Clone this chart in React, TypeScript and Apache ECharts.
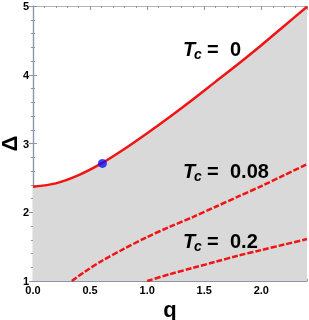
import React, { useEffect, useRef } from "react";
import * as echarts from "echarts";

const q0 = [0, 0.2, 0.4, 0.6, 0.8, 1.0, 1.2, 1.4, 1.6, 1.8, 2.0, 2.2, 2.4];
const tc0 = [2.37, 2.42, 2.54, 2.71, 2.92, 3.15, 3.39, 3.64, 3.90, 4.16, 4.43, 4.71, 4.99];
const q08 = [0.34, 0.45, 0.6, 0.8, 1.0, 1.2, 1.4, 1.6, 1.8, 2.0, 2.2, 2.4];
const tc08 = [1.0, 1.13, 1.29, 1.47, 1.64, 1.79, 1.93, 2.08, 2.23, 2.38, 2.54, 2.70];
const q2 = [1.0, 1.2, 1.4, 1.6, 1.8, 2.0, 2.2, 2.4];
const tc2 = [1.0, 1.10, 1.19, 1.28, 1.37, 1.45, 1.53, 1.61];
const point = [0.608, 2.71];
const labels = [
  { value: "0", y: 49 },
  { value: "0.08", y: 171 },
  { value: "0.2", y: 241 },
];

const RED = "#f01414";
const FRAME = "#8c96aa";
const FONT = '"Liberation Sans", Arial, sans-serif';

function zip(a: number[], b: number[]) {
  return a.map((v, i) => [v, b[i]]);
}

export default function App() {
  const ref = useRef<HTMLDivElement>(null);
  useEffect(() => {
    document.body.style.margin = "0";
    const chart = echarts.init(ref.current!, null, { renderer: "svg" });
    const major = { show: true, inside: true, length: 4, lineStyle: { color: FRAME } };
    const minor = { show: true, inside: true, length: 2, lineStyle: { color: FRAME } };
    const noLabel = { show: false };
    const noSplit = { show: false };
    const graphic: any[] = [];
    labels.forEach((l) => {
      graphic.push(
        { type: "text", z: 20, x: 183, y: l.y, style: { text: "T", font: `italic bold 20px ${FONT}`, fill: "#000", verticalAlign: "middle" } },
        { type: "text", z: 20, x: 194, y: l.y + 4.7, style: { text: "c", font: `italic bold 14px ${FONT}`, fill: "#000", verticalAlign: "middle" } },
        { type: "text", z: 20, x: 207, y: l.y, style: { text: "=", font: `bold 20px ${FONT}`, fill: "#000", verticalAlign: "middle" } },
        { type: "text", z: 20, x: 230, y: l.y, style: { text: l.value, font: `bold 20px ${FONT}`, fill: "#000", verticalAlign: "middle" } }
      );
    });
    chart.setOption({
      animation: false,
      grid: { left: 33, top: 6, right: 2, bottom: 39, containLabel: false, outerBoundsMode: "none" },
      xAxis: [
        {
          type: "value", min: 0, max: 2.4, interval: 0.5, position: "bottom",
          axisLine: { show: true, lineStyle: { color: FRAME, width: 1.2 } },
          axisTick: major,
          axisLabel: { show: true, showMaxLabel: false, formatter: (v: number) => v.toFixed(1), color: "#000", fontWeight: "bold", fontSize: 11, fontFamily: FONT, margin: 3 },
          splitLine: noSplit,
          name: "q", nameLocation: "middle", nameGap: 17, nameMoveOverlap: false,
          nameTextStyle: { color: "#000", fontWeight: "bold", fontSize: 22, fontFamily: FONT },
        },
        { type: "value", min: 0, max: 2.4, interval: 0.1, position: "bottom", axisLine: { show: false }, axisTick: minor, axisLabel: noLabel, splitLine: noSplit },
        { type: "value", min: 0, max: 2.4, interval: 0.5, position: "top", axisLine: { show: true, lineStyle: { color: "#b4b4b4" } }, axisTick: major, axisLabel: noLabel, splitLine: noSplit },
        { type: "value", min: 0, max: 2.4, interval: 0.1, position: "top", axisLine: { show: false }, axisTick: minor, axisLabel: noLabel, splitLine: noSplit },
      ],
      yAxis: [
        {
          type: "value", min: 1, max: 5, interval: 1, position: "left",
          axisLine: { show: true, lineStyle: { color: FRAME, width: 1.2 } },
          axisTick: major,
          axisLabel: { show: true, color: "#000", fontWeight: "bold", fontSize: 11, fontFamily: FONT, margin: 4 },
          splitLine: noSplit,
          name: "Δ", nameLocation: "middle", nameGap: 13, nameRotate: 90, nameMoveOverlap: false,
          nameTextStyle: { color: "#000", fontWeight: "bold", fontSize: 22, fontFamily: FONT },
        },
        { type: "value", min: 1, max: 5, interval: 0.2, position: "left", axisLine: { show: false }, axisTick: minor, axisLabel: noLabel, splitLine: noSplit },
        { type: "value", min: 1, max: 5, interval: 1, position: "right", axisLine: { show: true, lineStyle: { color: FRAME, width: 1.2 } }, axisTick: major, axisLabel: noLabel, splitLine: noSplit },
        { type: "value", min: 1, max: 5, interval: 0.2, position: "right", axisLine: { show: false }, axisTick: minor, axisLabel: noLabel, splitLine: noSplit },
      ],
      series: [
        {
          type: "line", data: zip(q0, tc0), smooth: 0.3, showSymbol: false, symbol: "none",
          lineStyle: { color: RED, width: 2.5 },
          areaStyle: { color: "#d9d9d9", opacity: 1, origin: "start" },
          z: 3,
        },
        {
          type: "line", data: zip(q08, tc08), smooth: 0.3, symbol: "none",
          lineStyle: { color: RED, width: 2.5, type: [6, 2] }, z: 4,
        },
        {
          type: "line", data: zip(q2, tc2), smooth: 0.3, symbol: "none",
          lineStyle: { color: RED, width: 2.5, type: [6, 2] }, z: 4,
        },
        {
          type: "scatter", data: [point], symbolSize: 9,
          itemStyle: { color: "#1010f5" }, z: 5,
        },
      ],
      graphic,
    });
    return () => chart.dispose();
  }, []);
  return <div ref={ref} style={{ position: "fixed", left: 0, top: 0, width: 309, height: 320 }} />;
}
